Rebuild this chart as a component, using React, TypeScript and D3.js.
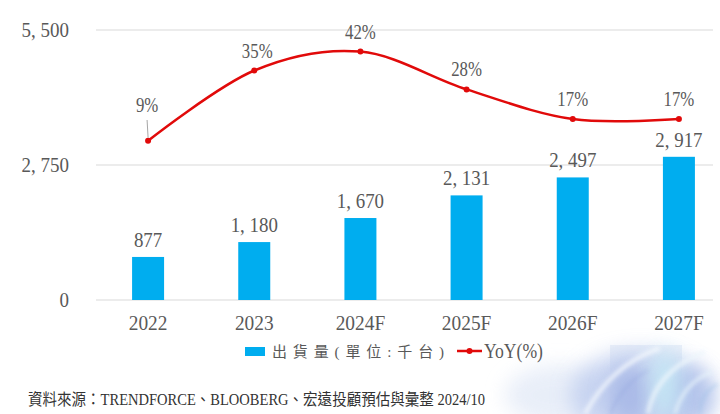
import React from 'react';
import * as d3 from 'd3';

const categories = ['2022', '2023', '2024F', '2025F', '2026F', '2027F'];
const shipments = [877, 1180, 1670, 2131, 2497, 2917];
const yoy = [9, 35, 42, 28, 17, 17];
const leftTicks = [0, 2750, 5500];
const legendBar = '出貨量(單位:千台)';
const legendLine = 'YoY(%)';
const source = '資料來源：TRENDFORCE、BLOOBERG、宏遠投顧預估與彙整 2024/10';

const W = 720, H = 414;
const numFont = '"Liberation Serif", "Noto Sans CJK TC", serif';
const textGray = '#595959';
const barBlue = '#00adef';
const lineRed = '#e10a0a';

// narrow serif text, squeezed horizontally like the original font
const T = ({ x, y, children, size = 21, sx = 0.88, anchor = 'middle' }: any) => (
  <text
    transform={`translate(${x},${y}) scale(${sx},1)`}
    textAnchor={anchor}
    fontFamily={numFont}
    fontSize={size}
    fill={textGray}
  >
    {children}
  </text>
);

const App = () => {
  const x = d3.scaleBand<string>().domain(categories).range([95, 732]).paddingInner(0.3).paddingOuter(0.15);
  const y = d3.scaleLinear().domain([0, 5500]).range([300, 30]);
  const y2 = d3.scaleLinear().domain([-50, 50]).range([300, 30]);
  const cx = (c: string) => (x(c) as number) + x.bandwidth() / 2;
  const barW = 32;

  const fmtTick = (v: number) => d3.format(',')(v).replace(',', ', ');
  const fmtBar = (v: number) => d3.format(',')(v).replace(',', ', ');

  const pts = categories.map((c, i) => [cx(c), y2(yoy[i])] as [number, number]);
  const linePath = d3.line().curve(d3.curveCardinal.tension(0))(pts) || '';

  return (
    <svg width={W} height={H} style={{ position: 'fixed', left: 0, top: 0, background: '#fff' }}>
      <defs>
        <filter id="blur" x="-50%" y="-50%" width="200%" height="200%">
          <feGaussianBlur stdDeviation="10" />
        </filter>
        <filter id="blur2" x="-50%" y="-50%" width="200%" height="200%">
          <feGaussianBlur stdDeviation="2" />
        </filter>
      </defs>

      {/* decorative swirl bottom right */}
      <g>
        <rect x={610} y={345} width={72} height={69} fill="#e4ebf7" opacity={0.7} />
        <ellipse cx={560} cy={395} rx={55} ry={30} fill="#e3eaf7" opacity={0.8} filter="url(#blur)" />
        <ellipse cx={640} cy={395} rx={70} ry={45} fill="#bccbee" opacity={0.75} filter="url(#blur)" />
        <ellipse cx={630} cy={395} rx={22} ry={30} fill="#9fb0e4" opacity={0.7} filter="url(#blur)" />
        <ellipse cx={690} cy={395} rx={25} ry={30} fill="#a9bce8" opacity={0.7} filter="url(#blur)" />
        <ellipse cx={665} cy={385} rx={14} ry={35} fill="#c6ecf6" opacity={0.8} filter="url(#blur)" />
        <path d="M585,414 C600,385 625,360 660,348" stroke="#f4f8fd" strokeWidth={4} fill="none" opacity={0.9} filter="url(#blur2)" />
        <path d="M648,414 C652,390 668,365 705,352" stroke="#eef6fc" strokeWidth={4} fill="none" opacity={0.9} filter="url(#blur2)" />
        <path d="M675,414 C680,395 690,380 712,372" stroke="#e9f4fb" strokeWidth={3} fill="none" opacity={0.9} filter="url(#blur2)" />
        <path d="M610,414 C618,395 630,380 648,370" stroke="#8da0dc" strokeWidth={2} fill="none" opacity={0.5} filter="url(#blur2)" />
        <path d="M700,414 C700,400 706,390 718,384" stroke="#8fb9e4" strokeWidth={2} fill="none" opacity={0.5} filter="url(#blur2)" />
      </g>

      {/* gridlines */}
      {leftTicks.map(t => (
        <line key={t} x1={96} x2={713} y1={y(t)} y2={y(t)} stroke="#d9d9d9" strokeWidth={1} />
      ))}

      {/* y tick labels */}
      {leftTicks.map(t => (
        <T key={'t' + t} x={69} y={y(t) + 7} size={20} sx={0.95} anchor="end">
          {fmtTick(t)}
        </T>
      ))}

      {/* bars */}
      {categories.map((c, i) => (
        <rect key={c} x={cx(c) - barW / 2} y={y(shipments[i])} width={barW} height={y(0) - y(shipments[i])} fill={barBlue} />
      ))}
      {categories.map((c, i) => (
        <T key={'b' + c} x={cx(c)} y={y(shipments[i]) - 10} size={21} sx={0.9}>
          {fmtBar(shipments[i])}
        </T>
      ))}

      {/* x labels */}
      {categories.map(c => (
        <T key={'x' + c} x={cx(c)} y={330} size={22} sx={0.88}>
          {c}
        </T>
      ))}

      {/* yoy line */}
      <path d={linePath} fill="none" stroke={lineRed} strokeWidth={2.5} />
      {pts.map((p, i) => (
        <circle key={'p' + i} cx={p[0]} cy={p[1]} r={3} fill={lineRed} />
      ))}
      {/* leader for first label */}
      <line x1={pts[0][0] - 1} y1={120} x2={pts[0][0]} y2={pts[0][1] - 3} stroke="#a6a6a6" strokeWidth={1} />
      {pts.map((p, i) => (
        <T key={'l' + i} x={p[0] - (i === 0 ? 1 : 0) + (i === 1 ? 3 : 0)} y={i === 0 ? 112 : p[1] - 13} size={21} sx={0.8}>
          {yoy[i] + '%'}
        </T>
      ))}

      {/* legend */}
      <rect x={245} y={347} width={20} height={9} fill={barBlue} />
      <text x={272} y={357} fontFamily={numFont} fontSize={15} fill={textGray} textLength={172} lengthAdjust="spacing">
        {legendBar}
      </text>
      <line x1={457} x2={482} y1={351} y2={351} stroke={lineRed} strokeWidth={2.5} />
      <circle cx={469.5} cy={351} r={3} fill={lineRed} />
      <text x={484} y={358} fontFamily={numFont} fontSize={20} fill={textGray} textLength={59} lengthAdjust="spacingAndGlyphs">
        {legendLine}
      </text>

      {/* source */}
      <text x={28} y={405} fontFamily={numFont} fontSize={16} fill="#333" textLength={457} lengthAdjust="spacingAndGlyphs">
        {source}
      </text>
    </svg>
  );
};

export default App;
